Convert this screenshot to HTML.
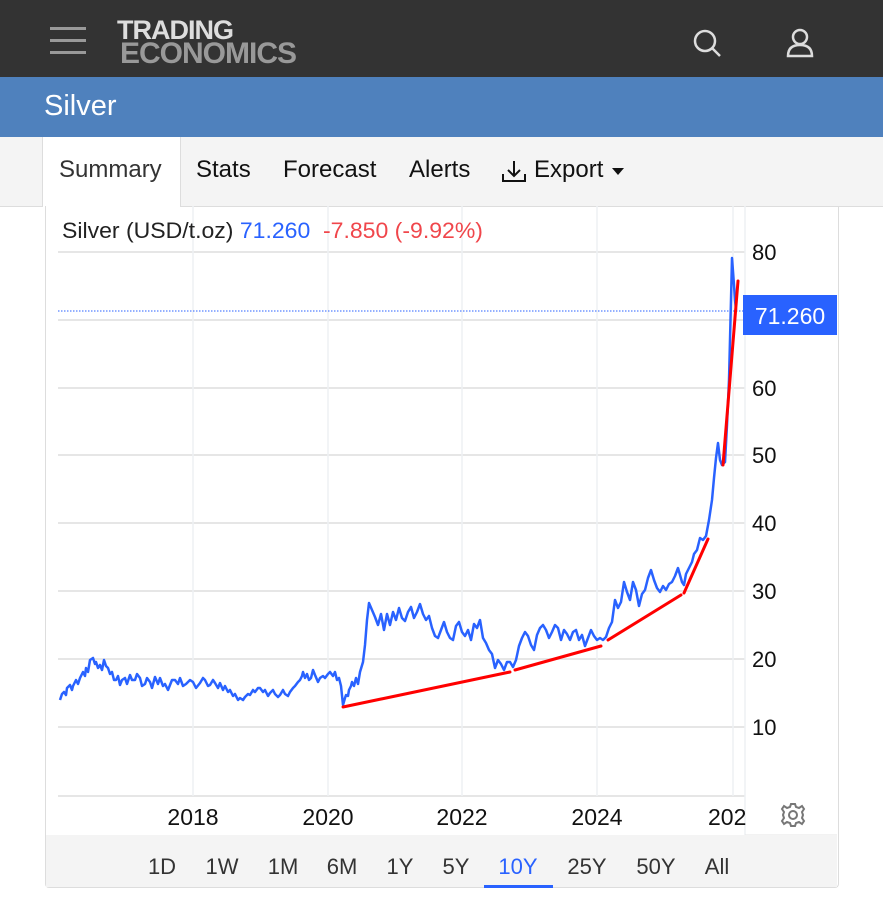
<!DOCTYPE html>
<html><head><meta charset="utf-8"><style>
body{margin:0;width:883px;height:901px;background:#fff;font-family:"Liberation Sans",sans-serif;position:relative;overflow:hidden}
.top{position:absolute;left:0;top:0;width:883px;height:77px;background:#333}
.blue{position:absolute;left:0;top:77px;width:883px;height:60px;background:#4f81bd;color:#fff;font-size:29px}
.tabs{position:absolute;left:0;top:137px;width:883px;height:69px;background:#f4f4f4;border-bottom:1px solid #ddd}
.tab{position:absolute;top:19px;font-size:24px;color:#111}
</style></head><body>
<div class="top">
 <div style="position:absolute;left:50px;top:27px;width:36px;height:3px;background:#999"></div>
 <div style="position:absolute;left:50px;top:39px;width:36px;height:3px;background:#999"></div>
 <div style="position:absolute;left:50px;top:51px;width:36px;height:3px;background:#999"></div>
 <div style="position:absolute;left:117px;top:17px;font-size:27px;font-weight:bold;color:#ddd;letter-spacing:-1px;line-height:26px">TRADING</div>
 <div style="position:absolute;left:120px;top:39px;font-size:30px;font-weight:bold;color:#999;letter-spacing:-1px;line-height:29px">ECONOMICS</div>
 <svg style="position:absolute;left:693px;top:28px" width="30" height="32"><circle cx="12" cy="13" r="10" fill="none" stroke="#ddd" stroke-width="2.5"/><line x1="19" y1="20" x2="27" y2="28" stroke="#ddd" stroke-width="2.5"/></svg>
 <svg style="position:absolute;left:785px;top:28px" width="30" height="32"><circle cx="15" cy="9" r="7" fill="none" stroke="#ddd" stroke-width="2.5"/><path d="M3 28 Q3 17 15 17 Q27 17 27 28 Z" fill="none" stroke="#ddd" stroke-width="2.5"/></svg>
</div>
<div class="blue"><div style="position:absolute;left:44px;top:13px">Silver</div></div>
<div class="tabs">
 <div style="position:absolute;left:42px;top:0;width:137px;height:70px;background:#fff;border-left:1px solid #ddd;border-right:1px solid #ddd"></div>
 <div class="tab" style="left:59px;color:#333">Summary</div>
 <div class="tab" style="left:196px">Stats</div>
 <div class="tab" style="left:283px">Forecast</div>
 <div class="tab" style="left:409px">Alerts</div>
 <svg style="position:absolute;left:501px;top:22px" width="26" height="26"><line x1="13" y1="2" x2="13" y2="17" stroke="#111" stroke-width="2"/><polyline points="7,11 13,17 19,11" fill="none" stroke="#111" stroke-width="2"/><polyline points="2,15 2,22 24,22 24,15" fill="none" stroke="#111" stroke-width="2"/></svg>
 <div class="tab" style="left:534px">Export</div>
 <div style="position:absolute;left:612px;top:31px;border-left:6px solid transparent;border-right:6px solid transparent;border-top:7px solid #111"></div>
</div>
<div style="position:absolute;left:45px;top:206px;width:792px;height:681px;border:1px solid #ddd;border-top:none;border-radius:0 0 4px 4px"></div>
<svg style="position:absolute;left:0;top:0" width="883" height="901">
 <g stroke="#e6e6e6" stroke-width="2">
  <line x1="58" y1="252" x2="745" y2="252"/><line x1="58" y1="320" x2="745" y2="320"/><line x1="58" y1="388" x2="745" y2="388"/><line x1="58" y1="455" x2="745" y2="455"/><line x1="58" y1="523" x2="745" y2="523"/><line x1="58" y1="591" x2="745" y2="591"/><line x1="58" y1="659" x2="745" y2="659"/><line x1="58" y1="727" x2="745" y2="727"/><line x1="58" y1="796" x2="745" y2="796"/>
 </g>
 <g stroke="#eef1f4" stroke-width="1.5">
  <line x1="193" y1="206" x2="193" y2="796"/><line x1="328" y1="206" x2="328" y2="796"/><line x1="462" y1="206" x2="462" y2="796"/><line x1="597" y1="206" x2="597" y2="796"/><line x1="733" y1="206" x2="733" y2="796"/><line x1="745" y1="206" x2="745" y2="835"/>
 </g>
 <line x1="745" y1="835" x2="837" y2="835" stroke="#e6e6e6"/>
 <rect x="46" y="835" width="791" height="52" fill="#f4f4f4"/>
 <line x1="58" y1="311" x2="745" y2="311" stroke="#2962ff" stroke-width="1" stroke-dasharray="1.5,1.5"/>
 <polyline fill="none" stroke="#2962ff" stroke-width="2.5" stroke-linejoin="round" points="60,700 62,694 64,692 66,695 67,688 70,685 72,690 73,686 76,680 78,684 80,678 83,672 85,676 86,668 88,672 90,660 93,658 95,664 96,662 98,668 100,665 102,670 104,660 106,666 108,668 110,674 112,672 114,680 116,680 118,676 120,685 122,680 125,678 127,684 130,675 132,680 135,680 137,674 140,678 142,686 145,684 147,678 150,682 152,688 155,677 158,684 160,678 163,686 165,684 168,690 170,685 172,680 175,680 178,684 180,678 183,686 186,684 190,680 193,682 196,688 200,683 203,678 205,680 208,686 210,685 213,680 215,683 218,688 220,683 223,690 225,686 228,692 230,690 233,696 235,694 238,700 240,698 243,700 245,697 248,694 250,695 253,690 255,692 258,688 260,688 263,692 265,690 268,696 270,693 273,690 275,694 278,697 280,695 283,690 285,694 288,696 290,692 293,688 295,686 298,682 300,680 302,676 303,672 305,678 307,674 309,680 311,678 313,670 315,675 318,682 320,678 323,676 325,678 328,674 330,672 333,676 335,672 337,680 339,678 341,686 343,705 345,698 346,695 348,696 349,690 351,686 352,682 354,686 356,678 358,684 360,672 363,662 365,645 367,620 369,603 372,610 375,617 378,625 381,614 384,630 387,614 390,625 393,612 396,620 399,608 402,618 405,621 408,612 411,607 414,618 417,612 420,604 423,614 426,620 429,616 432,628 435,636 438,638 441,630 444,622 447,632 450,638 453,640 456,626 459,622 462,632 465,636 468,630 471,640 474,624 477,628 480,620 483,638 486,643 489,650 492,654 495,668 498,660 501,664 504,670 507,662 510,662 513,667 516,660 519,646 522,638 525,632 528,636 531,645 534,650 537,635 540,628 543,625 546,630 549,638 552,632 555,625 558,628 561,640 564,630 567,634 570,640 573,632 576,630 579,640 582,635 585,646 588,638 591,630 594,636 597,640 600,638 603,640 606,637 609,628 612,622 615,600 618,608 621,602 624,582 627,592 630,600 633,582 636,590 639,606 642,594 645,590 648,578 651,570 654,580 657,588 660,592 663,586 666,590 669,584 672,582 675,576 678,568 680,575 682,582 684,585 686,574 689,568 692,562 694,554 697,550 700,538 703,540 706,536 709,520 712,500 714,478 716,458 718,443 720,460 722,465 725,462 727,425 729,380 730,340 731,300 732,258 734,285 735,300 736,310"/>
 <g stroke="#ff0000" stroke-width="3" stroke-linecap="round">
  <line x1="343" y1="707" x2="510" y2="672"/><line x1="515" y1="670" x2="601" y2="646"/><line x1="608" y1="640" x2="681" y2="595"/><line x1="684" y1="593" x2="708" y2="539"/><line x1="723" y1="465" x2="738" y2="281"/>
 </g>
 <rect x="743" y="295" width="94" height="40" fill="#2962ff"/>
 <text x="790" y="324" fill="#fff" font-size="23" text-anchor="middle" font-family="Liberation Sans">71.260</text>
 <g font-size="22" fill="#111" font-family="Liberation Sans">
  <text x="752" y="260">80</text><text x="752" y="396">60</text><text x="752" y="463">50</text><text x="752" y="531">40</text><text x="752" y="599">30</text><text x="752" y="667">20</text><text x="752" y="735">10</text>
 </g>
 <g font-size="23" fill="#111" font-family="Liberation Sans" text-anchor="middle">
  <text x="193" y="825">2018</text><text x="328" y="825">2020</text><text x="462" y="825">2022</text><text x="597" y="825">2024</text>
 </g>
 <text x="708" y="825" font-size="23" fill="#111" font-family="Liberation Sans">202</text>
 <rect x="746" y="800" width="91" height="34" fill="#fff"/>
 <g transform="translate(793,815)" fill="none" stroke="#777" stroke-width="2"><circle r="4"/><path d="M-2,-11 L2,-11 L3,-8 L6,-7 L9,-9 L11,-6 L9,-3 L10,0 L9,3 L11,6 L9,9 L6,7 L3,8 L2,11 L-2,11 L-3,8 L-6,7 L-9,9 L-11,6 L-9,3 L-10,0 L-9,-3 L-11,-6 L-9,-9 L-6,-7 L-3,-8 Z"/></g>
 <text x="62" y="238" font-size="22" font-family="Liberation Sans" fill="#222" textLength="421" lengthAdjust="spacingAndGlyphs">Silver (USD/t.oz) <tspan fill="#2962ff">71.260</tspan> <tspan fill="#f0464b" dx="6">-7.850 (-9.92%)</tspan></text>
 <g font-size="22" fill="#333" font-family="Liberation Sans" text-anchor="middle">
  <text x="162" y="874">1D</text><text x="222" y="874">1W</text><text x="283" y="874">1M</text><text x="342" y="874">6M</text><text x="400" y="874">1Y</text><text x="456" y="874">5Y</text><text x="518" y="874" fill="#2962ff">10Y</text><text x="587" y="874">25Y</text><text x="656" y="874">50Y</text><text x="717" y="874">All</text>
 </g>
 <rect x="484" y="885" width="69" height="3" fill="#2962ff"/>
</svg>
</body></html>
